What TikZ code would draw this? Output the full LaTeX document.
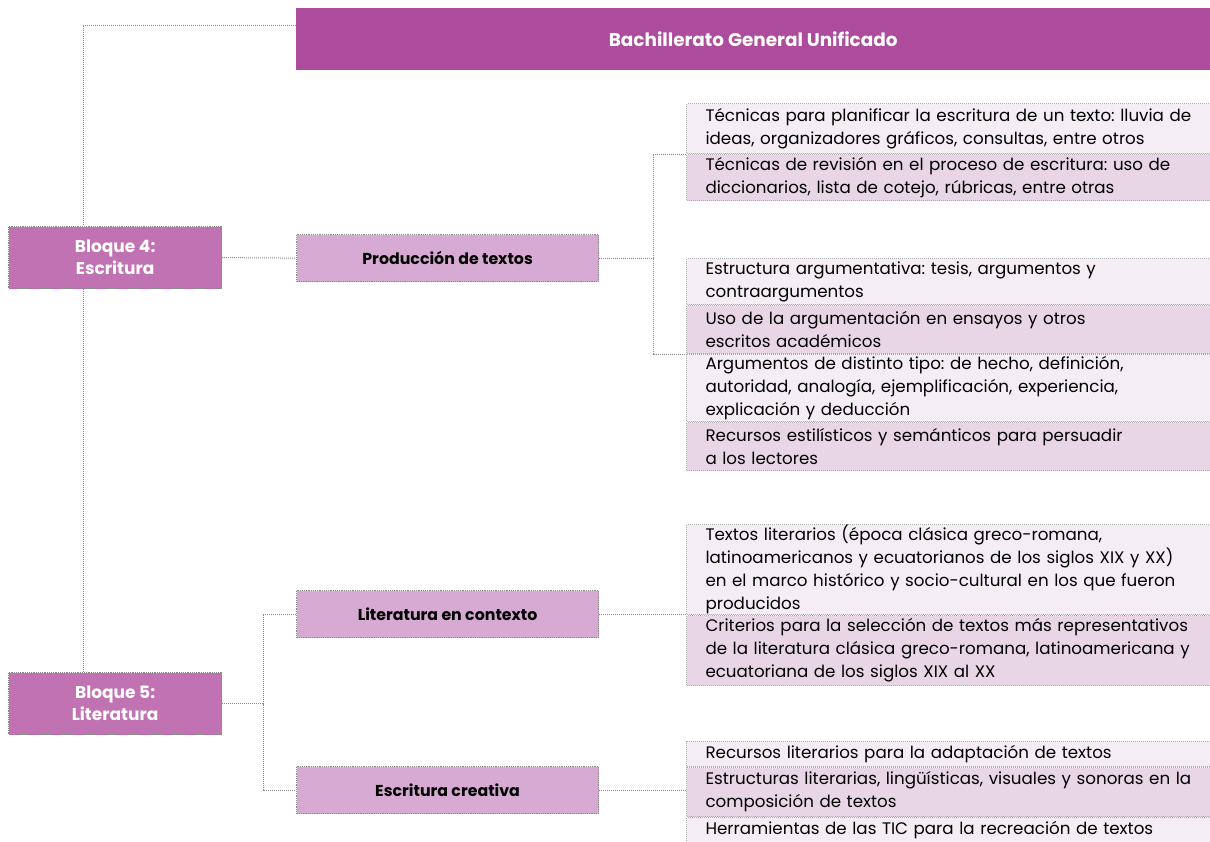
\documentclass[tikz,border=0pt]{standalone}
\usepackage{fontspec}
\setmainfont{Poppins}
\usetikzlibrary{positioning}

\definecolor{titlepurple}{HTML}{AD4C9C}
\definecolor{blockpurple}{HTML}{C072B3}
\definecolor{topicpurple}{HTML}{D6AAD2}
\definecolor{itemlight}{HTML}{F4EDF4}
\definecolor{itemdark}{HTML}{E8D6E7}
\definecolor{dotgray}{HTML}{8A8A8A}

\begin{document}
\frenchspacing
\begin{tikzpicture}[
    x=1pt, y=-1pt,
    title/.style={
        rectangle,
        fill=titlepurple,
        text=white,
        font=\fontsize{18.4}{22}\selectfont\bfseries,
        minimum width=914,
        minimum height=62,
        anchor=north west
    },
    bloque/.style={
        rectangle,
        draw=dotgray,
        densely dotted,
        line width=1.2pt,
        fill=blockpurple,
        text=white,
        font=\fontsize{17}{22}\selectfont\bfseries,
        align=center,
        minimum width=213,
        minimum height=62,
        anchor=north west
    },
    topic/.style={
        rectangle,
        draw=dotgray,
        densely dotted,
        line width=1.2pt,
        fill=topicpurple,
        font=\fontsize{15.8}{20}\selectfont\bfseries,
        minimum width=302,
        minimum height=47,
        anchor=north west
    },
    item/.style={
        rectangle,
        draw=dotgray!70,
        densely dotted,
        line width=1pt,
        fill=itemlight,
        font=\fontsize{16.7}{23}\selectfont,
        text width=510,
        inner xsep=19,
        inner ysep=0,
        align=left
    },
    itemdk/.style={
        item,
        fill=itemdark
    },
    link/.style={
        draw=dotgray,
        densely dotted,
        line width=1pt
    }
]
\useasboundingbox (0,0) rectangle (1210,841);

% Title
\node[title] (title) at (296,8) {Bachillerato General Unificado};

% Blocks
\node[bloque] (b4) at (8,226) {Bloque 4:\\Escritura};
\node[bloque] (b5) at (8,672) {Bloque 5:\\Literatura};

% Topics
\node[topic] (prod) at (296,234) {Producción de textos};
\node[topic] (lit) at (296,590) {Literatura en contexto};
\node[topic] (esc) at (296,766) {Escritura creativa};

% Items: producción (1)
\node[item, anchor=north west, minimum height=50] (a1) at (686,103) {Técnicas para planificar la escritura de un texto: lluvia de\\ideas, organizadores gráficos, consultas, entre otros};
\node[itemdk, below=0pt of a1, minimum height=46] (a2) {Técnicas de revisión en el proceso de escritura: uso de\\diccionarios, lista de cotejo, rúbricas, entre otras};

% Items: producción (2)
\node[item, anchor=north west, minimum height=46] (c1b) at (686,258) {Estructura argumentativa: tesis, argumentos y\\contraargumentos};
\node[itemdk, below=0pt of c1b, minimum height=48] (c2b) {Uso de la argumentación en ensayos y otros\\escritos académicos};
\node[item, below=0pt of c2b, minimum height=67] (c3b) {Argumentos de distinto tipo: de hecho, definición,\\autoridad, analogía, ejemplificación, experiencia,\\explicación y deducción};
\node[itemdk, below=0pt of c3b, minimum height=48] (c4b) {Recursos estilísticos y semánticos para persuadir\\a los lectores};

% Items: literatura en contexto
\node[item, anchor=north west, minimum height=90] (l1) at (686,524) {Textos literarios (época clásica greco-romana,\\latinoamericanos y ecuatorianos de los siglos XIX y XX)\\en el marco histórico y socio-cultural en los que fueron\\producidos};
\node[itemdk, below=0pt of l1, minimum height=70] (l2) {Criterios para la selección de textos más representativos\\de la literatura clásica greco-romana, latinoamericana y\\ecuatoriana de los siglos XIX al XX};

% Items: escritura creativa
\node[item, anchor=north west, minimum height=25] (e1) at (686,741) {Recursos literarios para la adaptación de textos};
\node[itemdk, below=0pt of e1, minimum height=49] (e2) {Estructuras literarias, lingüísticas, visuales y sonoras en la\\composición de textos};
\node[item, below=0pt of e2, minimum height=26] (e3) {Herramientas de las TIC para la recreación de textos};

% Junctions
\coordinate (pj) at ([xshift=54]prod.east);
\coordinate (lj) at ([xshift=41]b5.east);

% Links
\draw[link] ([yshift=-17]title.north west) -| ([xshift=75]b4.north west);
\draw[link] ([xshift=75]b4.south west) -- ([xshift=75]b5.north west);
\draw[link] (b4.east) -- (prod.west);
\draw[link] (prod.east) -- (pj);
\draw[link] (a1.south west) -| (pj) |- (c2b.south west);
\draw[link] (b5.east) -- (lj);
\draw[link] (lit.west) -| (lj) |- (esc.west);
\draw[link] (lit.east) -- (lit.east -| l1.west);
\draw[link] (esc.east) -- (esc.east -| e2.west);

\end{tikzpicture}
\end{document}
